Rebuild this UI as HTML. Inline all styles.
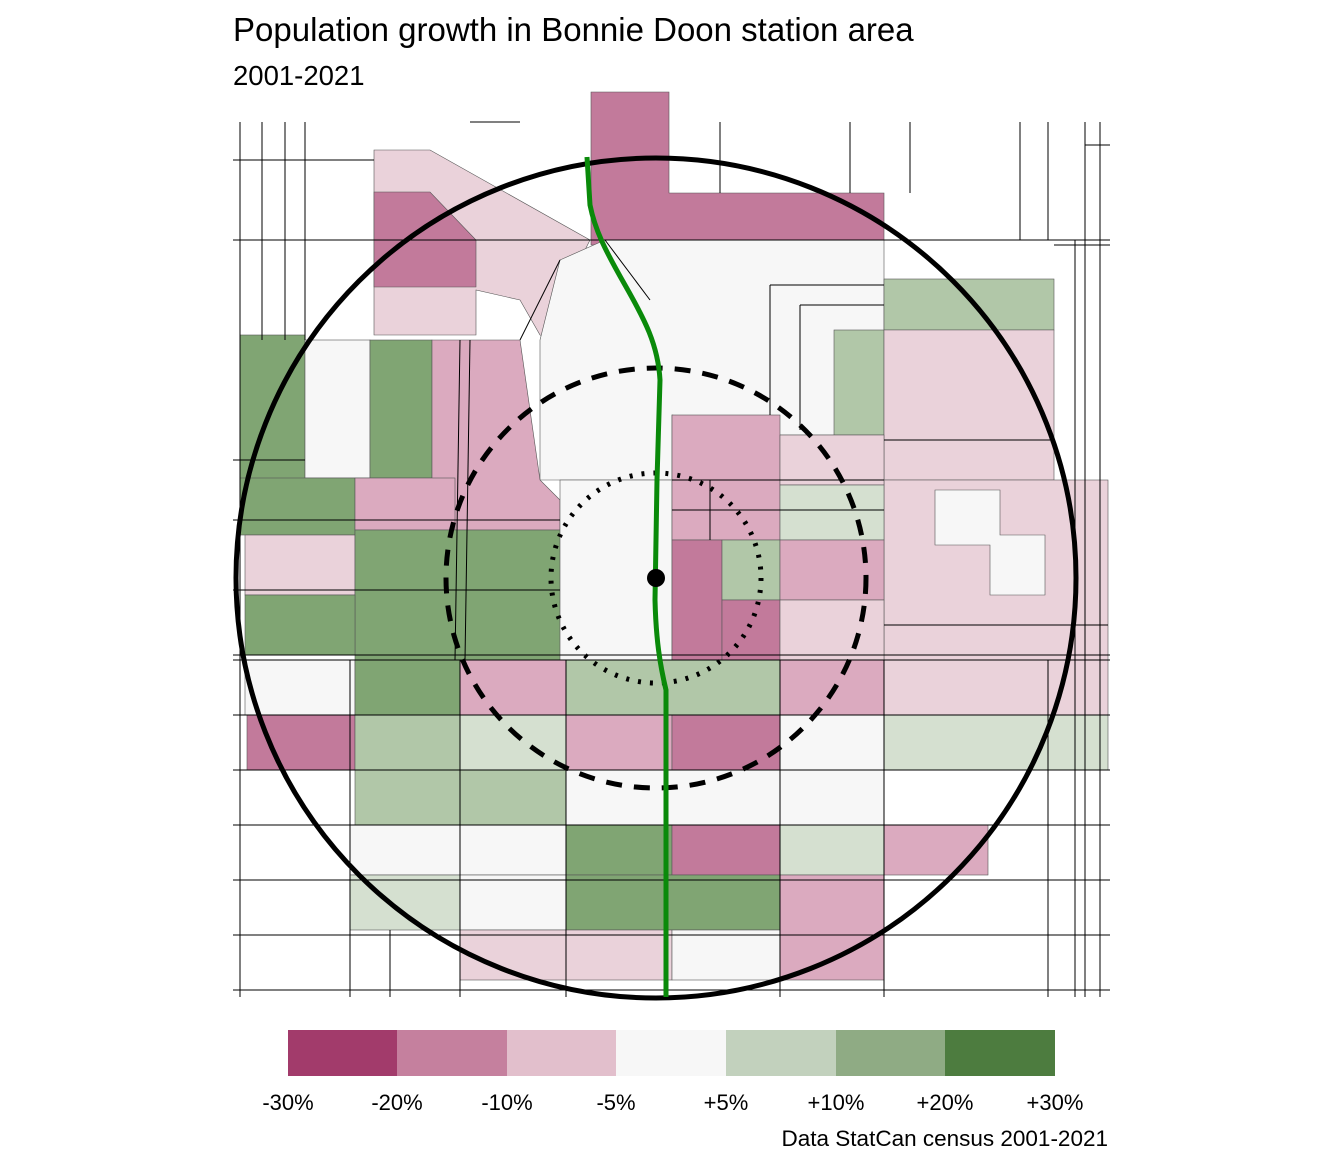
<!DOCTYPE html>
<html><head><meta charset="utf-8"><style>
body{margin:0;background:#fff;}
svg{display:block;font-family:"Liberation Sans",Arial,sans-serif;}
</style></head><body>
<svg width="1344" height="1152" viewBox="0 0 1344 1152" xmlns="http://www.w3.org/2000/svg">
<rect width="1344" height="1152" fill="#fff"/>
<text x="233" y="41" font-size="33" fill="#000">Population growth in Bonnie Doon station area</text>
<text x="233" y="85" font-size="27.5" fill="#000">2001-2021</text>
<g stroke="#555" stroke-width="0.6">
<polygon points="374,150 430,150 590,240 575,270 560,340 540,335 520,300 476,290 476,335 374,335" fill="#ead2da"/>
<polygon points="374,192 430,192 476,240 476,287 374,287" fill="#c27a9b"/>
<polygon points="591,92 669,92 669,193 884,193 884,240 591,245" fill="#c27a9b"/>
<polygon points="560,260 605,240 884,240 884,435 780,435 672,415 672,480 540,480 540,340" fill="#f7f7f7"/>
<rect x="884" y="279" width="170" height="51" fill="#b1c7a8"/>
<rect x="834" y="330" width="50" height="105" fill="#b1c7a8"/>
<polygon points="884,330 1054,330 1054,480 884,480" fill="#ead2da"/>
<rect x="884" y="480" width="224" height="180" fill="#ead2da"/>
<polygon points="935,490 1000,490 1000,535 1045,535 1045,595 990,595 990,545 935,545" fill="#f7f7f7"/>
<rect x="240" y="335" width="65" height="145" fill="#80a573"/>
<rect x="305" y="340" width="65" height="138" fill="#f7f7f7"/>
<rect x="370" y="340" width="62" height="138" fill="#80a573"/>
<polygon points="432,340 520,340 540,480 560,500 560,530 432,530" fill="#dbaabf"/>
<rect x="240" y="478" width="115" height="57" fill="#80a573"/>
<rect x="355" y="478" width="100" height="52" fill="#dbaabf"/>
<rect x="245" y="535" width="110" height="60" fill="#ead2da"/>
<rect x="355" y="530" width="210" height="130" fill="#80a573"/>
<rect x="245" y="595" width="110" height="60" fill="#80a573"/>
<rect x="560" y="480" width="112" height="180" fill="#f7f7f7"/>
<rect x="672" y="415" width="108" height="125" fill="#dbaabf"/>
<rect x="780" y="435" width="104" height="50" fill="#ead2da"/>
<rect x="780" y="485" width="104" height="55" fill="#d5e0d0"/>
<rect x="672" y="540" width="50" height="120" fill="#c27a9b"/>
<rect x="722" y="540" width="58" height="60" fill="#b1c7a8"/>
<rect x="722" y="600" width="58" height="60" fill="#c27a9b"/>
<rect x="780" y="540" width="104" height="60" fill="#dbaabf"/>
<rect x="780" y="600" width="104" height="60" fill="#ead2da"/>
<rect x="245" y="660" width="110" height="55" fill="#f7f7f7"/>
<rect x="355" y="660" width="105" height="55" fill="#80a573"/>
<rect x="460" y="660" width="106" height="55" fill="#dbaabf"/>
<rect x="566" y="660" width="214" height="55" fill="#b1c7a8"/>
<rect x="780" y="660" width="104" height="55" fill="#dbaabf"/>
<rect x="884" y="660" width="224" height="55" fill="#ead2da"/>
<rect x="247" y="715" width="108" height="55" fill="#c27a9b"/>
<rect x="355" y="715" width="105" height="55" fill="#b1c7a8"/>
<rect x="460" y="715" width="106" height="55" fill="#d5e0d0"/>
<rect x="566" y="715" width="106" height="55" fill="#dbaabf"/>
<rect x="672" y="715" width="108" height="55" fill="#c27a9b"/>
<rect x="780" y="715" width="104" height="55" fill="#f7f7f7"/>
<rect x="884" y="715" width="224" height="55" fill="#d5e0d0"/>
<rect x="355" y="770" width="211" height="55" fill="#b1c7a8"/>
<rect x="566" y="770" width="318" height="55" fill="#f7f7f7"/>
<rect x="350" y="825" width="216" height="50" fill="#f7f7f7"/>
<rect x="566" y="825" width="106" height="50" fill="#80a573"/>
<rect x="672" y="825" width="108" height="50" fill="#c27a9b"/>
<rect x="780" y="825" width="104" height="50" fill="#d5e0d0"/>
<rect x="884" y="825" width="104" height="50" fill="#dbaabf"/>
<rect x="350" y="875" width="110" height="55" fill="#d5e0d0"/>
<rect x="460" y="875" width="106" height="55" fill="#f7f7f7"/>
<rect x="566" y="875" width="214" height="55" fill="#80a573"/>
<rect x="780" y="875" width="104" height="105" fill="#dbaabf"/>
<rect x="460" y="930" width="212" height="50" fill="#ead2da"/>
<rect x="672" y="930" width="108" height="50" fill="#f7f7f7"/>
</g>
<g stroke="#000" stroke-width="1" fill="none">
<line x1="233" y1="655" x2="1110" y2="655"/><line x1="233" y1="660" x2="1110" y2="660"/>
<line x1="233" y1="715" x2="1110" y2="715"/><line x1="233" y1="770" x2="1110" y2="770"/>
<line x1="233" y1="825" x2="1110" y2="825"/><line x1="233" y1="880" x2="1110" y2="880"/>
<line x1="233" y1="935" x2="1110" y2="935"/><line x1="233" y1="990" x2="1110" y2="990"/>
<line x1="233" y1="240" x2="1110" y2="240"/><line x1="1054" y1="245" x2="1110" y2="245"/>
<line x1="233" y1="160" x2="374" y2="160"/><line x1="233" y1="520" x2="560" y2="520"/>
<line x1="233" y1="590" x2="560" y2="590"/><line x1="233" y1="460" x2="305" y2="460"/>
<line x1="240" y1="122" x2="240" y2="997"/><line x1="262" y1="122" x2="262" y2="340"/>
<line x1="285" y1="122" x2="285" y2="340"/><line x1="305" y1="122" x2="305" y2="340"/>
<line x1="350" y1="660" x2="350" y2="997"/><line x1="390" y1="930" x2="390" y2="997"/>
<line x1="460" y1="660" x2="460" y2="997"/><line x1="566" y1="660" x2="566" y2="997"/>
<line x1="780" y1="660" x2="780" y2="997"/><line x1="884" y1="660" x2="884" y2="997"/>
<line x1="1048" y1="660" x2="1048" y2="997"/><line x1="1075" y1="240" x2="1075" y2="997"/>
<line x1="1085" y1="122" x2="1085" y2="997"/><line x1="1100" y1="122" x2="1100" y2="997"/>
<line x1="1048" y1="122" x2="1048" y2="240"/><line x1="1020" y1="122" x2="1020" y2="240"/>
<line x1="910" y1="122" x2="910" y2="193"/><line x1="850" y1="122" x2="850" y2="193"/>
<line x1="720" y1="122" x2="720" y2="193"/><line x1="710" y1="480" x2="710" y2="540"/>
<line x1="460" y1="340" x2="455" y2="660"/><line x1="470" y1="340" x2="465" y2="660"/>
<line x1="770" y1="285" x2="884" y2="285"/><line x1="770" y1="285" x2="770" y2="415"/>
<line x1="800" y1="305" x2="884" y2="305"/><line x1="800" y1="305" x2="800" y2="430"/>
<line x1="672" y1="480" x2="884" y2="480"/><line x1="672" y1="510" x2="884" y2="510"/>
<line x1="884" y1="440" x2="1050" y2="440"/><line x1="884" y1="625" x2="1108" y2="625"/>
<line x1="1110" y1="145" x2="1085" y2="145"/><line x1="470" y1="122" x2="520" y2="122"/>
<line x1="560" y1="260" x2="520" y2="340"/><line x1="605" y1="240" x2="650" y2="300"/>
</g>
<circle cx="656" cy="578" r="420" fill="none" stroke="#000" stroke-width="5"/>
<circle cx="656" cy="578" r="210" fill="none" stroke="#000" stroke-width="5" stroke-dasharray="16 12"/>
<circle cx="656" cy="578" r="105" fill="none" stroke="#000" stroke-width="5" stroke-dasharray="3 9"/>
<path d="M587,157 L590,205 C595,230 605,250 625,285 C645,320 658,345 660,380 L657,480 L655,600 C656,640 660,665 666,690 L666,997" fill="none" stroke="#0a8a0a" stroke-width="5"/>
<circle cx="656" cy="578" r="9" fill="#000"/>
<rect x="288" y="1030" width="110" height="46" fill="#a23b6b"/>
<rect x="397" y="1030" width="110" height="46" fill="#c5809e"/>
<rect x="507" y="1030" width="110" height="46" fill="#e2bfcc"/>
<rect x="616" y="1030" width="110" height="46" fill="#f7f7f7"/>
<rect x="726" y="1030" width="110" height="46" fill="#c2d1bd"/>
<rect x="836" y="1030" width="110" height="46" fill="#8fab84"/>
<rect x="945" y="1030" width="110" height="46" fill="#4d7c3f"/>
<g font-size="22" text-anchor="middle" fill="#000">
<text x="288" y="1110">-30%</text><text x="397" y="1110">-20%</text><text x="507" y="1110">-10%</text>
<text x="616" y="1110">-5%</text><text x="726" y="1110">+5%</text><text x="836" y="1110">+10%</text>
<text x="945" y="1110">+20%</text><text x="1055" y="1110">+30%</text>
</g>
<text x="1108" y="1146" font-size="22.5" text-anchor="end" fill="#000">Data StatCan census 2001-2021</text>
</svg>
</body></html>
